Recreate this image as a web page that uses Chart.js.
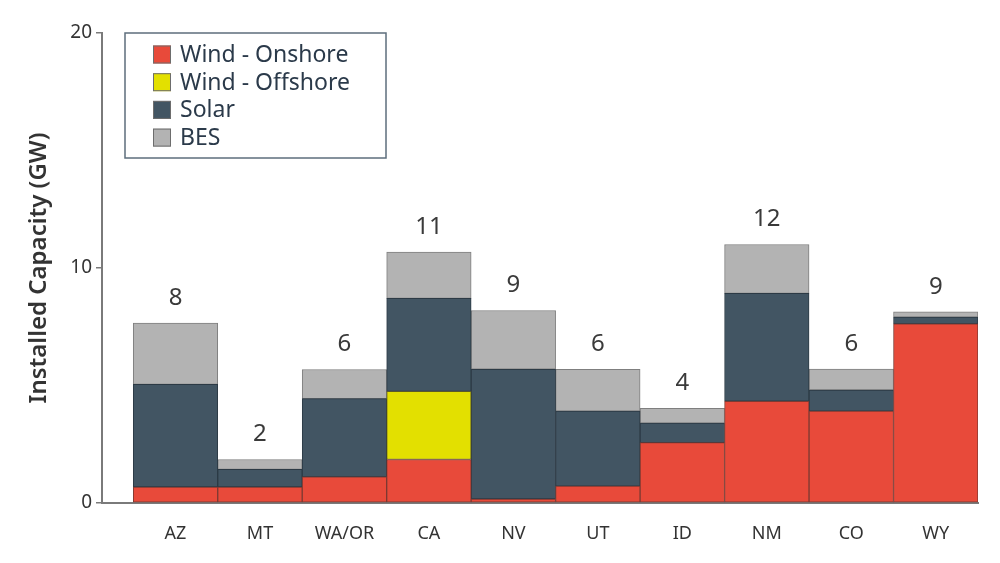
<!DOCTYPE html>
<html>
<head>
<meta charset="utf-8">
<script src="https://cdn.jsdelivr.net/npm/chart.js@4"></script>
<style>
  html, body { margin: 0; padding: 0; background: #fff; }
  #wrap { width: 1000px; height: 563px; position: relative; }
</style>
</head>
<body>
<div id="wrap"><canvas id="capacityChart" width="1000" height="563"></canvas></div>
<script>
const states = ['AZ', 'MT', 'WA/OR', 'CA', 'NV', 'UT', 'ID', 'NM', 'CO', 'WY'];
const windOnshore = [0.68, 0.68, 1.11, 1.85, 0.17, 0.72, 2.57, 4.33, 3.91, 7.62];
const windOffshore = [null, null, null, 2.9, null, null, null, null, null, null];
const solar = [4.37, 0.75, 3.33, 3.96, 5.52, 3.19, 0.83, 4.59, 0.9, 0.29];
const bes = [2.61, 0.42, 1.24, 1.97, 2.5, 1.78, 0.63, 2.08, 0.89, 0.22];
const totalLabels = ['8', '2', '6', '11', '9', '6', '4', '12', '6', '9'];
const yTicks = [0, 10, 20];

const fontFamily = "'Noto Sans', sans-serif";

function toPoints(values) {
    return values.map((v, i) => ({ x: i, y: v }));
}

// totals above each bar + legend box inside the plot
const overlayPlugin = {
    id: 'overlay',
    afterDatasetsDraw(chart) {
        const ctx = chart.ctx;
        const x = chart.scales.x;
        const y = chart.scales.y;

        ctx.save();
        ctx.fillStyle = '#3a3a3a';
        ctx.font = '24px ' + fontFamily;
        ctx.textAlign = 'center';
        ctx.textBaseline = 'middle';
        states.forEach((s, i) => {
            const sum = (windOnshore[i] || 0) + (windOffshore[i] || 0) + (solar[i] || 0) + (bes[i] || 0);
            ctx.fillText(totalLabels[i], x.getPixelForValue(i), y.getPixelForValue(sum) - 25);
        });

        // legend
        const bx = 125, by = 33, bw = 261, bh = 125;
        ctx.fillStyle = '#fff';
        ctx.fillRect(bx, by, bw, bh);
        ctx.strokeStyle = '#5d6e7c';
        ctx.lineWidth = 1.5;
        ctx.strokeRect(bx, by, bw, bh);
        ctx.font = '23px ' + fontFamily;
        ctx.textAlign = 'left';
        chart.data.datasets.forEach((ds, i) => {
            const cy = 54.5 + i * 27.7;
            ctx.fillStyle = ds.backgroundColor;
            ctx.fillRect(153, cy - 9, 18, 18);
            ctx.strokeStyle = '#6d6d6d';
            ctx.lineWidth = 1;
            ctx.strokeRect(153.5, cy - 8.5, 17, 17);
            ctx.fillStyle = '#2b3a4a';
            ctx.fillText(ds.label, 180, cy + 1);
        });
        ctx.restore();
    }
};

const ctx = document.getElementById('capacityChart').getContext('2d');
new Chart(ctx, {
    type: 'bar',
    data: {
        datasets: [
            { label: 'Wind - Onshore', data: toPoints(windOnshore), backgroundColor: '#e84a3a', borderColor: '#7d3a32' },
            { label: 'Wind - Offshore', data: toPoints(windOffshore), backgroundColor: '#e3e000', borderColor: '#5a5a2a' },
            { label: 'Solar', data: toPoints(solar), backgroundColor: '#425563', borderColor: '#2c3a45' },
            { label: 'BES', data: toPoints(bes), backgroundColor: '#b3b3b3', borderColor: '#7f7f7f' }
        ].map(ds => Object.assign(ds, {
            borderWidth: 1,
            borderSkipped: false,
            barPercentage: 1,
            categoryPercentage: 1
        }))
    },
    options: {
        responsive: false,
        animation: false,
        layout: { padding: { top: 33, right: 22, left: 0, bottom: 0 } },
        plugins: {
            legend: { display: false },
            tooltip: { enabled: false }
        },
        scales: {
            x: {
                type: 'linear',
                stacked: true,
                offset: false,
                min: -0.87,
                max: 9.5,
                grid: { display: false },
                border: { display: true, color: '#7a7a7a', width: 2 },
                afterFit: s => { s.height = 60; },
                afterBuildTicks: s => { s.ticks = states.map((st, i) => ({ value: i })); },
                ticks: {
                    autoSkip: false,
                    maxRotation: 0,
                    padding: 12,
                    color: '#333',
                    font: { family: fontFamily, size: 18 },
                    callback: v => states[v] !== undefined ? states[v] : ''
                }
            },
            y: {
                stacked: true,
                min: 0,
                max: 20,
                afterFit: s => { s.width = 102; },
                afterBuildTicks: s => { s.ticks = yTicks.map(v => ({ value: v })); },
                grid: { drawOnChartArea: false, drawTicks: true, tickLength: 6, color: '#7a7a7a', lineWidth: 1.5 },
                border: { display: true, color: '#7a7a7a', width: 2 },
                ticks: {
                    padding: 4,
                    color: '#333',
                    font: { family: fontFamily, size: 19 }
                },
                title: {
                    display: true,
                    text: 'Installed Capacity (GW)',
                    color: '#333',
                    font: { family: fontFamily, size: 24, weight: '600' },
                    padding: { top: 25, bottom: 0 }
                }
            }
        }
    },
    plugins: [overlayPlugin]
});
</script>
</body>
</html>
